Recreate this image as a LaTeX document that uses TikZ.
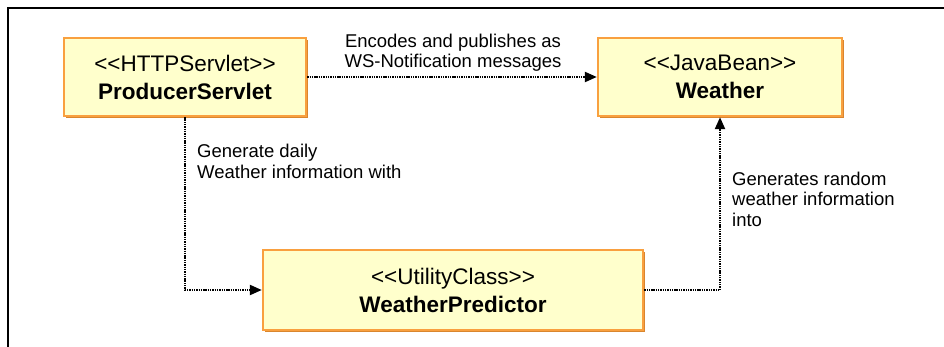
\documentclass[tikz,border=0pt]{standalone}
\usepackage{fontspec}
\setmainfont{Liberation Sans}
\usepackage{xcolor}
\usetikzlibrary{arrows.meta,positioning,shadows}
\definecolor{boxfill}{HTML}{FFFFCC}
\definecolor{boxline}{HTML}{F9A03F}
\definecolor{boxshade}{HTML}{D9862E}
\tikzset{umlbox/.style={rectangle,draw=boxline,line width=2.4pt,fill=boxfill,
  align=center,font=\fontsize{22.5}{28}\selectfont,inner sep=0pt,
  drop shadow={shadow xshift=2pt,shadow yshift=-2pt,fill=boxshade,opacity=1}},
  link/.style={-{Triangle[length=12pt,width=10pt]},line width=2.2pt,
  dash pattern=on 1.4pt off 0.9pt,line cap=butt},
  llabel/.style={font=\fontsize{18.5}{20.5}\selectfont,inner sep=0pt}}
\begin{document}
\begin{tikzpicture}[x=1pt,y=-1pt]
 \useasboundingbox (0,0) rectangle (944,347);
 \draw[line width=2pt] (8,347) -- (8,8) -- (944,8);
 \node[umlbox,minimum width=242pt,minimum height=78pt] (prod) at (185,77)
  {<{}<HTTPServlet>{}>\\\textbf{ProducerServlet}};
 \node[umlbox,minimum width=244pt,minimum height=78pt] (wthr) at (720,77)
  {<{}<JavaBean>{}>\\\textbf{Weather}};
 \node[umlbox,minimum width=380pt,minimum height=80pt] (pred) at (453,290)
  {<{}<UtilityClass>{}>\\\textbf{WeatherPredictor}};
 \draw[link] (prod.east) -- (wthr.west);
 \draw[link] (prod.south) |- (pred.west);
 \draw[link] (pred.east) -| (wthr.south);
 \node[llabel,align=center,anchor=north] (enc) at (453,33.5)
  {Encodes and publishes as\\WS-Notification messages};
 \node[llabel,align=left,anchor=north west] (gen) at (197,144)
  {Generate daily\\Weather information with};
 \node[llabel,align=left,anchor=north west] (rnd) at (732,171.5)
  {Generates random\\weather information\\into};
\end{tikzpicture}
\end{document}
